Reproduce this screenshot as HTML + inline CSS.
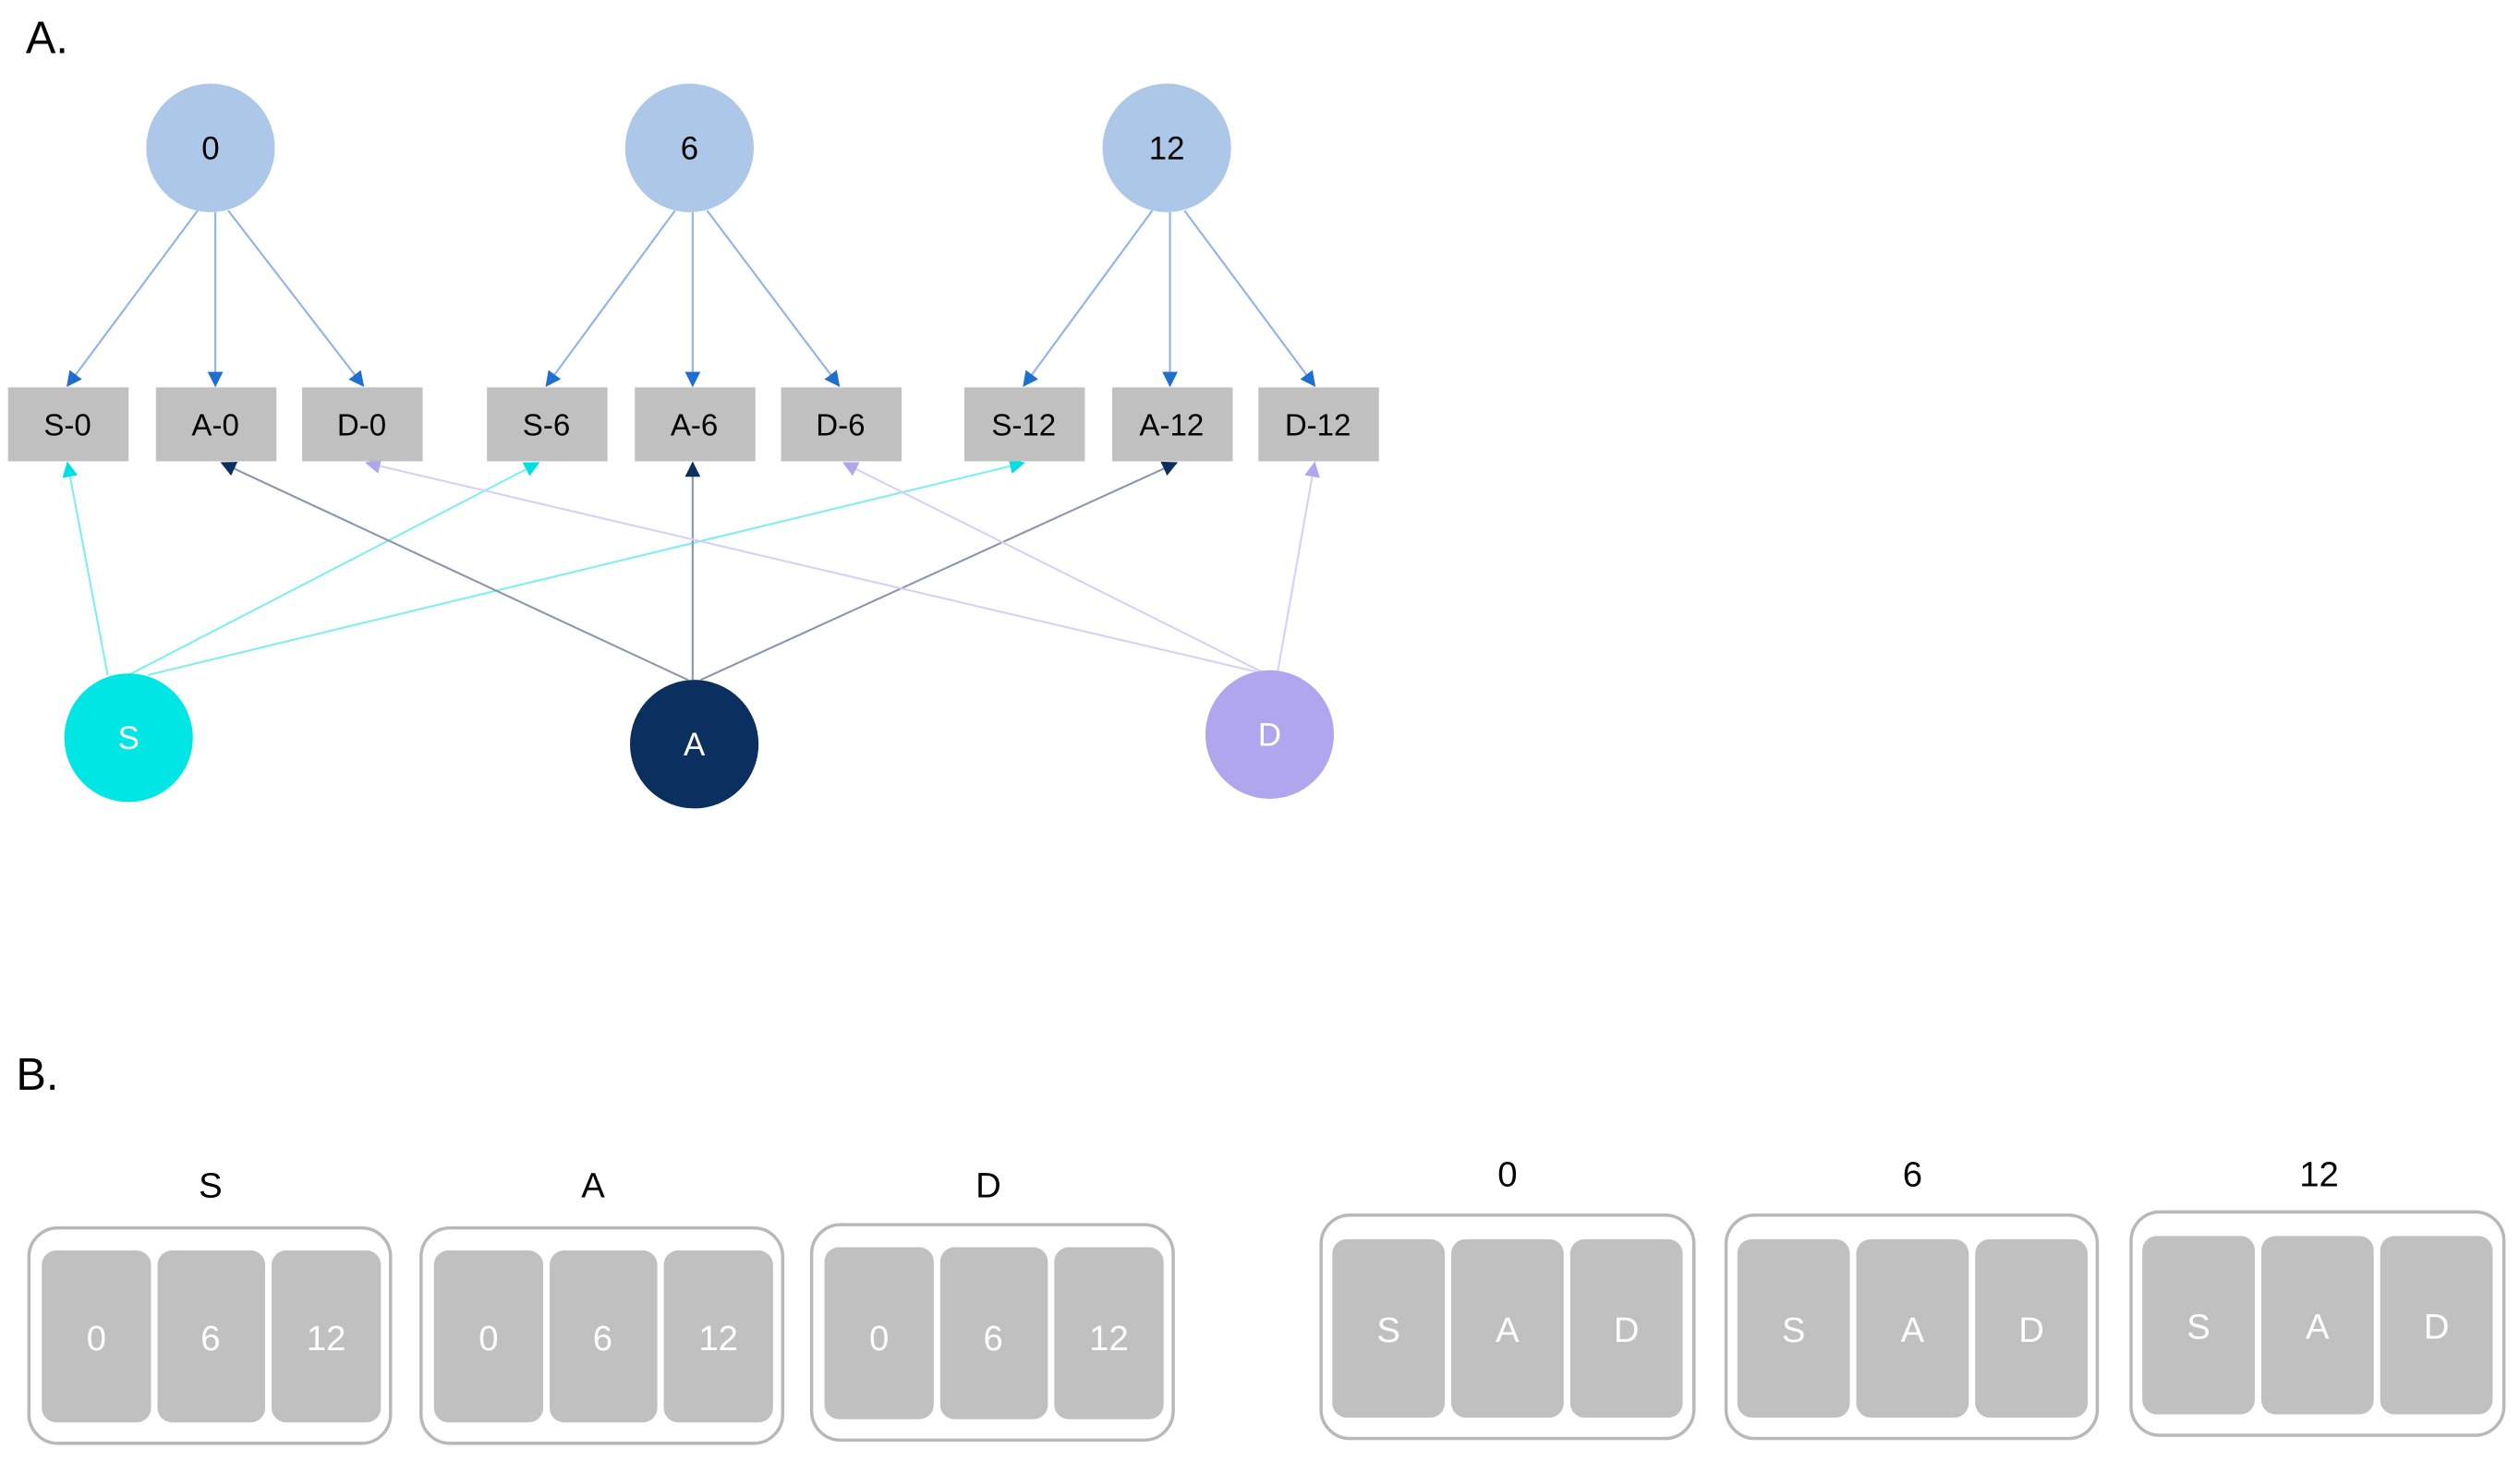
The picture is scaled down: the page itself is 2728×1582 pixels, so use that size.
<!DOCTYPE html>
<html><head><meta charset="utf-8"><style>
html,body{margin:0;padding:0;background:#fff;}
svg{display:block}
text{font-family:"Liberation Sans",sans-serif;}
</style></head><body>
<svg width="2728" height="1582" viewBox="0 0 1568 909" preserveAspectRatio="none" xmlns="http://www.w3.org/2000/svg">
<defs>
<marker id="mb" viewBox="0 0 10 10" refX="9" refY="5" markerWidth="8" markerHeight="8" orient="auto"><path d="M0,0L10,5L0,10z" fill="#1f6fce"/></marker>
<marker id="mc" viewBox="0 0 10 10" refX="9" refY="5" markerWidth="8" markerHeight="8" orient="auto"><path d="M0,0L10,5L0,10z" fill="#00e0e0"/></marker>
<marker id="ma" viewBox="0 0 10 10" refX="9" refY="5" markerWidth="8" markerHeight="8" orient="auto"><path d="M0,0L10,5L0,10z" fill="#0b2f5e"/></marker>
<marker id="md" viewBox="0 0 10 10" refX="9" refY="5" markerWidth="8" markerHeight="8" orient="auto"><path d="M0,0L10,5L0,10z" fill="#b0a6ee"/></marker>
</defs>
<text x="16" y="33" font-size="28">A.</text>
<text x="10" y="678" font-size="28">B.</text>
<g stroke="#8fb3e6" stroke-width="1.2" marker-end="url(#mb)">
<line x1="123" y1="131" x2="42" y2="240"/><line x1="134" y1="132" x2="134" y2="240"/><line x1="142" y1="131" x2="226" y2="240"/>
<line x1="420" y1="131" x2="340" y2="240"/><line x1="431" y1="132" x2="431" y2="240"/><line x1="440" y1="131" x2="522" y2="240"/>
<line x1="717" y1="131" x2="637" y2="240"/><line x1="728" y1="132" x2="728" y2="240"/><line x1="737" y1="131" x2="818" y2="240"/>
</g>
<g stroke-width="1.2">
<g stroke="#80eeee" marker-end="url(#mc)"><line x1="67" y1="420" x2="42" y2="288"/><line x1="80" y1="420" x2="335" y2="288"/><line x1="92" y1="420" x2="637" y2="288"/></g>
<g stroke="#8a97aa" marker-end="url(#ma)"><line x1="428" y1="423" x2="138" y2="288"/><line x1="431" y1="423" x2="431" y2="288"/><line x1="436" y1="423" x2="732" y2="288"/></g>
<g stroke="#d6d0f6" marker-end="url(#md)"><line x1="782" y1="418" x2="228" y2="288"/><line x1="785" y1="418" x2="525" y2="288"/><line x1="795" y1="418" x2="818" y2="288"/></g>
</g>
<g fill="#adc7e9"><circle cx="131" cy="92" r="40"/><circle cx="429" cy="92" r="40"/><circle cx="726" cy="92" r="40"/></g>
<g font-size="20" text-anchor="middle"><text x="131" y="99">0</text><text x="429" y="99">6</text><text x="726" y="99">12</text></g>
<g fill="#c0c0c0">
<rect x="5" y="241" width="75" height="46"/><rect x="97" y="241" width="75" height="46"/><rect x="188" y="241" width="75" height="46"/>
<rect x="303" y="241" width="75" height="46"/><rect x="395" y="241" width="75" height="46"/><rect x="486" y="241" width="75" height="46"/>
<rect x="600" y="241" width="75" height="46"/><rect x="692" y="241" width="75" height="46"/><rect x="783" y="241" width="75" height="46"/>
</g>
<g font-size="19" text-anchor="middle">
<text x="42" y="271">S-0</text><text x="134" y="271">A-0</text><text x="225" y="271">D-0</text>
<text x="340" y="271">S-6</text><text x="432" y="271">A-6</text><text x="523" y="271">D-6</text>
<text x="637" y="271">S-12</text><text x="729" y="271">A-12</text><text x="820" y="271">D-12</text>
</g>
<circle cx="80" cy="459" r="40" fill="#00e6e4"/><circle cx="432" cy="463" r="40" fill="#0b2f5e"/><circle cx="790" cy="457" r="40" fill="#b0a6ee"/>
<g font-size="20" fill="#fff" text-anchor="middle"><text x="80" y="466">S</text><text x="432" y="470">A</text><text x="790" y="464">D</text></g>

<g font-size="22" text-anchor="middle">
<text x="131" y="745">S</text><text x="369" y="745">A</text><text x="615" y="745">D</text>
<text x="938" y="738">0</text><text x="1190" y="738">6</text><text x="1443" y="738">12</text>
</g>
<g fill="#fff" stroke="#b8b8b8" stroke-width="2">
<rect x="18" y="764" width="225" height="134" rx="18"/><rect x="262" y="764" width="225" height="134" rx="18"/><rect x="505" y="762" width="225" height="134" rx="18"/>
<rect x="822" y="756" width="232" height="139" rx="18"/><rect x="1074" y="756" width="231" height="139" rx="18"/><rect x="1326" y="754" width="232" height="139" rx="18"/>
</g>
<g fill="#c0c0c0">
<rect x="26" y="778" width="68" height="107" rx="9"/><rect x="98" y="778" width="67" height="107" rx="9"/><rect x="169" y="778" width="68" height="107" rx="9"/>
<rect x="270" y="778" width="68" height="107" rx="9"/><rect x="342" y="778" width="67" height="107" rx="9"/><rect x="413" y="778" width="68" height="107" rx="9"/>
<rect x="513" y="776" width="68" height="107" rx="9"/><rect x="585" y="776" width="67" height="107" rx="9"/><rect x="656" y="776" width="68" height="107" rx="9"/>
<rect x="829" y="771" width="70" height="111" rx="9"/><rect x="903" y="771" width="70" height="111" rx="9"/><rect x="977" y="771" width="70" height="111" rx="9"/>
<rect x="1081" y="771" width="70" height="111" rx="9"/><rect x="1155" y="771" width="70" height="111" rx="9"/><rect x="1229" y="771" width="70" height="111" rx="9"/>
<rect x="1333" y="769" width="70" height="111" rx="9"/><rect x="1407" y="769" width="70" height="111" rx="9"/><rect x="1481" y="769" width="70" height="111" rx="9"/>
</g>
<g font-size="22" fill="#fff" text-anchor="middle">
<text x="60" y="840">0</text><text x="131" y="840">6</text><text x="203" y="840">12</text>
<text x="304" y="840">0</text><text x="375" y="840">6</text><text x="447" y="840">12</text>
<text x="547" y="840">0</text><text x="618" y="840">6</text><text x="690" y="840">12</text>
<text x="864" y="835">S</text><text x="938" y="835">A</text><text x="1012" y="835">D</text>
<text x="1116" y="835">S</text><text x="1190" y="835">A</text><text x="1264" y="835">D</text>
<text x="1368" y="833">S</text><text x="1442" y="833">A</text><text x="1516" y="833">D</text>
</g>
</svg>
</body></html>
